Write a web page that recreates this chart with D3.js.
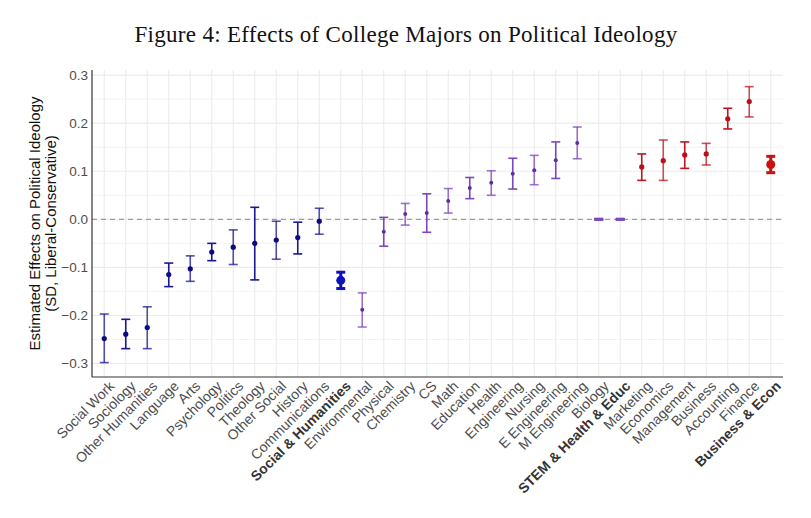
<!DOCTYPE html>
<html>
<head>
<meta charset="utf-8">
<script src="https://cdn.jsdelivr.net/npm/d3@7"></script>
<style>
  body { margin: 0; background: #fff; }
  svg { display: block; }
</style>
</head>
<body>
<svg id="chart" width="811" height="518"></svg>
<script>
// Majors, in plotted order
const majors = [
  'Social Work', 'Sociology', 'Other Humanities', 'Language', 'Arts', 'Psychology',
  'Politics', 'Theology', 'Other Social', 'History', 'Communications', 'Social & Humanities',
  'Environmental', 'Physical', 'Chemistry', 'CS', 'Math', 'Education', 'Health',
  'Engineering', 'Nursing', 'E Engineering', 'M Engineering', 'Biology', 'STEM & Health & Educ',
  'Marketing', 'Economics', 'Management', 'Business', 'Accounting', 'Finance', 'Business & Econ'
];

// Which field group each major belongs to
const groups = [
  'soc', 'soc', 'soc', 'soc', 'soc', 'soc', 'soc', 'soc', 'soc', 'soc', 'soc', 'soc',
  'stem', 'stem', 'stem', 'stem', 'stem', 'stem', 'stem', 'stem', 'stem', 'stem', 'stem', 'stem', 'stem',
  'bus', 'bus', 'bus', 'bus', 'bus', 'bus', 'bus'
];

// Group-level (pooled) estimates are shown in bold
const isGroupTotal = majors.map(m =>
  m === 'Social & Humanities' || m === 'STEM & Health & Educ' || m === 'Business & Econ');

// Point estimates
const estimates = [
  -0.248, -0.239, -0.225, -0.115, -0.103, -0.068, -0.058, -0.050, -0.043, -0.038, -0.004, -0.127,
  -0.188, -0.026, 0.011, 0.013, 0.038, 0.065, 0.076, 0.095, 0.102, 0.123, 0.159, 0.000, 0.000,
  0.109, 0.122, 0.134, 0.136, 0.209, 0.245, 0.114
];

// Confidence interval bounds
const lower = [
  -0.298, -0.269, -0.269, -0.140, -0.129, -0.086, -0.094, -0.126, -0.083, -0.072, -0.031, -0.144,
  -0.224, -0.056, -0.012, -0.027, 0.013, 0.043, 0.050, 0.063, 0.072, 0.085, 0.126, 0.000, 0.000,
  0.081, 0.081, 0.106, 0.113, 0.188, 0.213, 0.097
];
const upper = [
  -0.197, -0.208, -0.182, -0.091, -0.076, -0.050, -0.022, 0.025, -0.004, -0.006, 0.023, -0.110,
  -0.153, 0.004, 0.033, 0.053, 0.064, 0.087, 0.101, 0.127, 0.133, 0.161, 0.192, 0.000, 0.000,
  0.136, 0.165, 0.161, 0.158, 0.231, 0.276, 0.131
];

const yTicks = [-0.3, -0.2, -0.1, 0.0, 0.1, 0.2, 0.3];

const data = majors.map((m, i) => ({
  major: m, group: groups[i], total: isGroupTotal[i],
  est: estimates[i], lo: lower[i], hi: upper[i], idx: i
}));

// colours per group
const pointColor = { soc: '#0b0b85', stem: '#5e2f9e', bus: '#b5121b' };
const barColor = { soc: '#1a1890', stem: '#7a48b8', bus: '#c0161f' };
const totalColor = { soc: '#0f10c0', stem: '#7a48c4', bus: '#cc1111' };

const svg = d3.select('#chart');
const plotLeft = 92, plotRight = 783, plotTop = 70, plotBottom = 377;

const x = d3.scalePoint()
  .domain(majors)
  .range([plotLeft, plotRight])
  .padding(0.57);

const y = d3.scaleLinear()
  .domain([-0.328, 0.3106])
  .range([plotBottom, plotTop]);

// Title
svg.append('text')
  .attr('x', 406)
  .attr('y', 42)
  .attr('text-anchor', 'middle')
  .style('font-family', '"Liberation Serif", "DejaVu Serif", serif')
  .style('font-size', '23px')
  .style('letter-spacing', '0.3px')
  .style('fill', '#111')
  .text('Figure 4: Effects of College Majors on Political Ideology');

// Grid
const grid = svg.append('g');
d3.range(-0.3, 0.31, 0.05).forEach(v => {
  grid.append('line')
    .attr('x1', plotLeft).attr('x2', plotRight)
    .attr('y1', y(v)).attr('y2', y(v))
    .attr('stroke', '#ebebeb')
    .attr('stroke-width', Math.abs(Math.round(v * 10) - v * 10) < 1e-6 ? 1.1 : 0.6);
});
majors.forEach(m => {
  grid.append('line')
    .attr('x1', x(m)).attr('x2', x(m))
    .attr('y1', plotTop).attr('y2', plotBottom)
    .attr('stroke', '#ebebeb')
    .attr('stroke-width', 1.1);
});

// Zero reference line
svg.append('line')
  .attr('x1', plotLeft).attr('x2', plotRight)
  .attr('y1', y(0)).attr('y2', y(0))
  .attr('stroke', '#8a8a8a')
  .attr('stroke-width', 1)
  .attr('stroke-dasharray', '5,4');

// Axis lines
svg.append('line')
  .attr('x1', plotLeft).attr('x2', plotLeft)
  .attr('y1', plotTop).attr('y2', plotBottom)
  .attr('stroke', '#333').attr('stroke-width', 1.2);
svg.append('line')
  .attr('x1', plotLeft).attr('x2', plotRight)
  .attr('y1', plotBottom).attr('y2', plotBottom)
  .attr('stroke', '#333').attr('stroke-width', 1.2);

// Y tick labels
svg.append('g')
  .selectAll('text')
  .data(yTicks)
  .enter()
  .append('text')
  .attr('x', plotLeft - 4)
  .attr('y', d => y(d))
  .attr('dy', '0.35em')
  .attr('text-anchor', 'end')
  .style('font-family', '"Liberation Sans", Arial, sans-serif')
  .style('font-size', '13.5px')
  .style('fill', '#4d4d4d')
  .text(d => d3.format('.1f')(d));

// Y axis title
const yTitle = svg.append('text')
  .attr('transform', `translate(40, ${(plotTop + plotBottom) / 2}) rotate(-90)`)
  .attr('text-anchor', 'middle')
  .style('font-family', '"Liberation Sans", Arial, sans-serif')
  .style('font-size', '15px')
  .style('fill', '#111');
yTitle.append('tspan').attr('x', 0).attr('dy', '0em').text('Estimated Effects on Political Ideology');
yTitle.append('tspan').attr('x', 0).attr('dy', '1.05em').text('(SD, Liberal-Conservative)');

// X tick labels
svg.append('g')
  .selectAll('text')
  .data(data)
  .enter()
  .append('text')
  .attr('transform', d => `translate(${x(d.major) + 4}, ${plotBottom + 3}) rotate(-45)`)
  .attr('text-anchor', 'end')
  .attr('dy', '0.7em')
  .style('font-family', '"Liberation Sans", Arial, sans-serif')
  .style('font-size', '14px')
  .style('font-weight', d => d.total ? 'bold' : 'normal')
  .style('fill', d => d.total ? '#333' : '#4d4d4d')
  .text(d => d.major);

// Error bars
const bars = svg.append('g')
  .selectAll('g')
  .data(data)
  .enter()
  .append('g');

const capHalf = 4.5;
bars.each(function(d) {
  const g = d3.select(this);
  const col = d.total ? totalColor[d.group] : barColor[d.group];
  const op = d.total ? 1 : (d.idx % 2 === 0 ? 0.75 : 1);
  const sw = d.total ? 3 : 1.6;
  const cx = x(d.major);
  g.append('line')
    .attr('x1', cx).attr('x2', cx)
    .attr('y1', y(d.lo)).attr('y2', y(d.hi))
    .attr('stroke', col).attr('stroke-width', sw).attr('opacity', op);
  [d.lo, d.hi].forEach(v => {
    g.append('line')
      .attr('x1', cx - capHalf).attr('x2', cx + capHalf)
      .attr('y1', y(v)).attr('y2', y(v))
      .attr('stroke', col)
      .attr('stroke-width', d.hi === d.lo ? 3 : sw)
      .attr('opacity', op);
  });
  if (d.hi !== d.lo) {
    g.append('circle')
      .attr('cx', cx).attr('cy', y(d.est))
      .attr('r', d.total ? 4.5 : (d.group === 'stem' ? 2 : 2.6))
      .attr('fill', d.total ? totalColor[d.group] : pointColor[d.group]);
  }
});
</script>
</body>
</html>
